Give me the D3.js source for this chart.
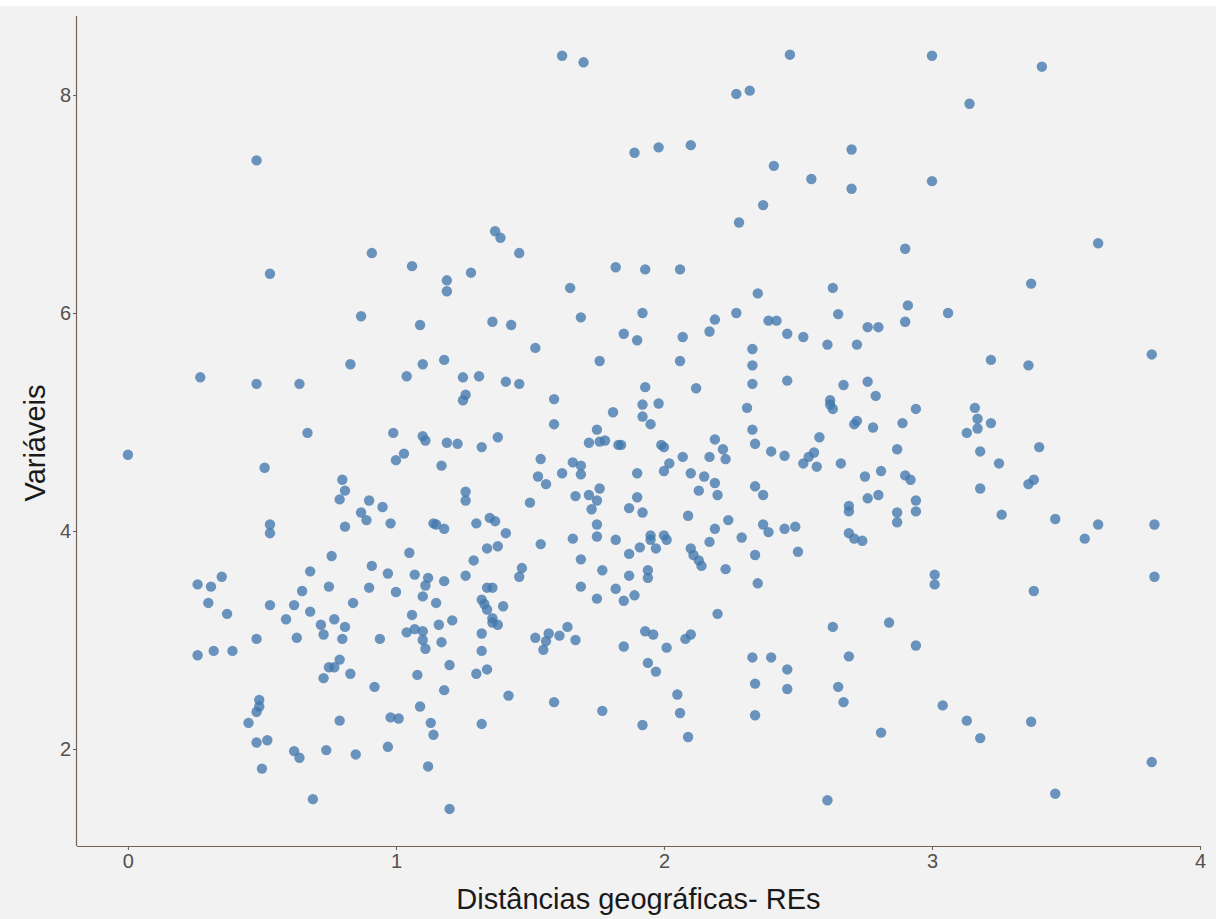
<!DOCTYPE html>
<html>
<head>
<meta charset="utf-8">
<script src="https://cdn.jsdelivr.net/npm/d3@7"></script>
<style>
  html, body { margin: 0; padding: 0; background: #ffffff; }
  svg { display: block; }
</style>
</head>
<body>
<svg id="chart" width="1216" height="919"></svg>
<script>
// Distâncias geográficas (x) and Variáveis (y), one entry per observation
const distancia = [
  0.48,0.53,1.62,1.70,1.89,0.91,1.06,1.19,1.19,1.28,1.37,1.39,1.46,1.65,1.82,1.93,
  2.47,2.27,2.32,1.98,2.10,2.70,2.41,2.55,2.70,2.37,2.28,2.90,2.06,2.63,2.35,
  3.00,3.41,3.14,3.00,3.62,3.37,
  0.87,0.83,0.27,0.48,0.64,0.67,0.00,0.51,0.80,0.81,0.79,0.87,0.53,0.53,0.81,0.76,0.68,
  1.09,1.36,1.43,1.69,1.92,1.85,1.90,1.52,1.76,1.10,1.18,1.04,1.25,1.31,1.41,1.46,
  1.26,1.25,1.59,1.93,1.92,1.92,1.81,1.59,0.99,1.10,1.11,1.19,1.23,1.32,1.38,1.75,
  1.72,1.76,1.78,1.83,1.84,1.03,1.00,1.17,1.54,1.53,1.56,1.66,1.69,1.62,1.69,1.90,
  1.26,1.26,1.50,1.67,1.72,1.76,1.75,1.73,1.90,1.87,1.92,0.90,0.95,0.89,0.98,1.14,
  1.15,1.18,1.30,1.35,1.37,1.41,1.34,1.38,1.54,1.66,1.75,1.75,1.82,1.91,1.87,1.69,
  1.05,1.29,0.91,0.97,1.07,1.47,1.46,1.77,
  2.19,2.17,2.27,2.07,2.39,2.42,2.46,2.52,2.65,2.61,2.72,2.76,2.80,2.91,2.90,2.06,
  2.33,2.33,2.33,2.46,2.12,1.98,1.95,2.31,2.67,2.76,2.79,2.62,2.62,2.63,2.94,2.71,
  2.72,2.78,2.89,2.33,2.34,2.58,2.19,2.22,2.23,2.17,2.07,1.99,2.00,2.02,2.00,2.40,
  2.45,2.52,2.54,2.56,2.57,2.66,2.87,2.81,2.75,2.90,2.92,2.10,2.15,2.19,2.13,2.20,
  2.34,2.37,2.76,2.80,2.94,2.94,2.87,2.87,2.69,2.69,2.09,2.24,2.19,2.17,2.29,2.37,
  2.39,2.45,2.49,2.69,2.71,2.74,1.95,1.95,2.00,2.01,1.97,2.10,2.11,2.13,2.14,2.23,
  2.34,2.50,1.94,1.94,
  3.06,3.22,3.36,3.82,3.16,3.17,3.17,3.13,3.22,3.18,3.25,3.40,3.38,3.36,3.18,3.26,
  3.46,3.62,3.57,3.83,3.01,3.01,
  0.26,0.31,0.35,0.30,0.37,0.53,0.62,0.65,0.75,0.84,0.68,0.59,0.63,0.72,0.73,0.77,
  0.81,0.80,0.48,0.26,0.32,0.39,0.79,0.75,0.77,0.73,0.83,0.49,0.48,0.49,0.45,0.79,
  0.48,0.52,0.62,0.64,0.74,0.85,0.50,0.69,
  1.12,1.11,1.18,1.26,0.90,1.00,1.10,1.15,1.06,1.04,1.07,1.10,1.10,1.11,1.16,1.21,
  1.17,0.94,1.34,1.36,1.32,1.33,1.34,1.40,1.36,1.36,1.38,1.32,1.32,1.20,1.30,1.34,
  1.08,0.92,1.18,1.42,1.59,1.77,1.09,0.98,1.01,1.13,1.14,1.32,1.92,0.97,1.12,1.20,
  1.52,1.55,1.56,1.57,1.61,1.64,1.67,1.69,1.75,1.82,1.85,1.89,1.87,1.85,
  2.35,2.20,1.93,1.96,2.01,2.08,2.10,1.94,1.97,2.05,2.06,2.09,2.33,2.40,2.46,2.34,
  2.46,2.34,2.63,2.84,2.94,2.69,2.65,2.67,2.81,2.61,
  3.38,3.83,3.04,3.13,3.18,3.37,3.82,3.46
];

const variaveis = [
  7.40,6.36,8.36,8.30,7.47,6.55,6.43,6.30,6.20,6.37,6.75,6.69,6.55,6.23,6.42,6.40,
  8.37,8.01,8.04,7.52,7.54,7.50,7.35,7.23,7.14,6.99,6.83,6.59,6.40,6.23,6.18,
  8.36,8.26,7.92,7.21,6.64,6.27,
  5.97,5.53,5.41,5.35,5.35,4.90,4.70,4.58,4.47,4.37,4.29,4.17,4.06,3.98,4.04,3.77,3.63,
  5.89,5.92,5.89,5.96,6.00,5.81,5.75,5.68,5.56,5.53,5.57,5.42,5.41,5.42,5.37,5.35,
  5.25,5.20,5.21,5.32,5.16,5.05,5.09,4.98,4.90,4.87,4.83,4.81,4.80,4.77,4.86,4.93,
  4.81,4.82,4.83,4.79,4.79,4.71,4.65,4.60,4.66,4.50,4.43,4.63,4.60,4.53,4.52,4.53,
  4.36,4.28,4.26,4.32,4.33,4.39,4.28,4.20,4.31,4.21,4.17,4.28,4.22,4.10,4.07,4.07,
  4.06,4.02,4.07,4.12,4.09,3.98,3.84,3.86,3.88,3.93,4.06,3.95,3.92,3.85,3.79,3.74,
  3.80,3.73,3.68,3.61,3.60,3.66,3.58,3.64,
  5.94,5.83,6.00,5.78,5.93,5.93,5.81,5.78,5.99,5.71,5.71,5.87,5.87,6.07,5.92,5.56,
  5.67,5.52,5.35,5.38,5.31,5.17,4.98,5.13,5.34,5.37,5.24,5.20,5.16,5.12,5.12,4.98,
  5.01,4.95,4.99,4.93,4.80,4.86,4.84,4.75,4.66,4.68,4.68,4.79,4.77,4.62,4.55,4.73,
  4.69,4.62,4.68,4.72,4.59,4.62,4.75,4.55,4.50,4.51,4.47,4.53,4.50,4.44,4.37,4.33,
  4.41,4.33,4.30,4.33,4.28,4.18,4.17,4.08,4.23,4.18,4.14,4.10,4.02,3.90,3.94,4.06,
  3.99,4.02,4.04,3.98,3.93,3.91,3.96,3.92,3.96,3.92,3.84,3.84,3.78,3.73,3.68,3.65,
  3.78,3.81,3.64,3.57,
  6.00,5.57,5.52,5.62,5.13,5.03,4.94,4.90,4.99,4.73,4.62,4.77,4.47,4.43,4.39,4.15,
  4.11,4.06,3.93,4.06,3.60,3.51,
  3.51,3.49,3.58,3.34,3.24,3.32,3.32,3.45,3.49,3.34,3.26,3.19,3.02,3.14,3.05,3.19,
  3.12,3.01,3.01,2.86,2.90,2.90,2.82,2.75,2.75,2.65,2.69,2.45,2.34,2.39,2.24,2.26,
  2.06,2.08,1.98,1.92,1.99,1.95,1.82,1.54,
  3.57,3.50,3.54,3.59,3.48,3.44,3.40,3.34,3.23,3.07,3.10,3.08,3.00,2.92,3.14,3.18,
  2.98,3.01,3.48,3.48,3.37,3.33,3.28,3.31,3.20,3.16,3.14,3.06,2.90,2.77,2.69,2.73,
  2.68,2.57,2.54,2.49,2.43,2.35,2.39,2.29,2.28,2.24,2.13,2.23,2.22,2.02,1.84,1.45,
  3.02,2.91,2.99,3.06,3.04,3.12,3.00,3.49,3.38,3.47,3.36,3.41,3.59,2.94,
  3.52,3.24,3.08,3.05,2.93,3.01,3.05,2.79,2.71,2.50,2.33,2.11,2.84,2.84,2.73,2.60,
  2.55,2.31,3.12,3.16,2.95,2.85,2.57,2.43,2.15,1.53,
  3.45,3.58,2.40,2.26,2.10,2.25,1.88,1.59
];

const xTicks = [0, 1, 2, 3, 4];
const yTicks = [2, 4, 6, 8];

const xTitle = "Distâncias geográficas- REs";
const yTitle = "Variáveis";

const points = distancia.map((d, i) => ({ x: d, y: variaveis[i] }));

const svg = d3.select("#chart");
const W = 1216, H = 919;
const panel = { left: 77, right: 1200, top: 16, bottom: 846 };

// page background
svg.append("rect")
  .attr("x", 0).attr("y", 6)
  .attr("width", W).attr("height", H - 6)
  .attr("fill", "#f2f2f2");

const x = d3.scaleLinear().domain([-0.19, 4.0]).range([panel.left, panel.right]);
const y = d3.scaleLinear().domain([1.11, 8.725]).range([panel.bottom, panel.top]);

const axisColor = "#6e6259";
const tickTextColor = "#55504c";
const fontFamily = "'Liberation Sans', Arial, Helvetica, sans-serif";

// x axis
const gx = svg.append("g")
  .attr("transform", `translate(0,${panel.bottom})`)
  .call(d3.axisBottom(x).tickValues(xTicks).tickFormat(d3.format("d")).tickSizeOuter(0).tickSize(4).tickPadding(4));
gx.select(".domain").attr("stroke", axisColor).attr("stroke-width", 1.2)
  .attr("d", `M${panel.left},0.5H${panel.right}`);
gx.selectAll(".tick line").attr("stroke", axisColor).attr("stroke-width", 1.1);
gx.selectAll(".tick text")
  .attr("fill", tickTextColor)
  .style("font-family", fontFamily)
  .style("font-size", "20px");

// y axis
const gy = svg.append("g")
  .attr("transform", `translate(${panel.left},0)`)
  .call(d3.axisLeft(y).tickValues(yTicks).tickFormat(d3.format("d")).tickSizeOuter(0).tickSize(4).tickPadding(2));
gy.select(".domain").attr("stroke", axisColor).attr("stroke-width", 1.2)
  .attr("d", `M-0.5,${panel.top}V${panel.bottom}`);
gy.selectAll(".tick line").attr("stroke", axisColor).attr("stroke-width", 1.1);
gy.selectAll(".tick text")
  .attr("fill", tickTextColor)
  .style("font-family", fontFamily)
  .style("font-size", "20px");

// points
svg.append("g")
  .selectAll("circle")
  .data(points)
  .join("circle")
  .attr("cx", d => x(d.x))
  .attr("cy", d => y(d.y))
  .attr("r", 5.2)
  .attr("fill", "#4379ad")
  .attr("fill-opacity", 0.78);

// axis titles
svg.append("text")
  .attr("x", (panel.left + panel.right) / 2)
  .attr("y", 909)
  .attr("text-anchor", "middle")
  .attr("fill", "#1a1a1a")
  .style("font-family", fontFamily)
  .style("font-size", "29px")
  .text(xTitle);

svg.append("text")
  .attr("transform", `translate(45,${(panel.top + panel.bottom) / 2 + 12}) rotate(-90)`)
  .attr("text-anchor", "middle")
  .attr("fill", "#1a1a1a")
  .style("font-family", fontFamily)
  .style("font-size", "29px")
  .text(yTitle);
</script>
</body>
</html>
